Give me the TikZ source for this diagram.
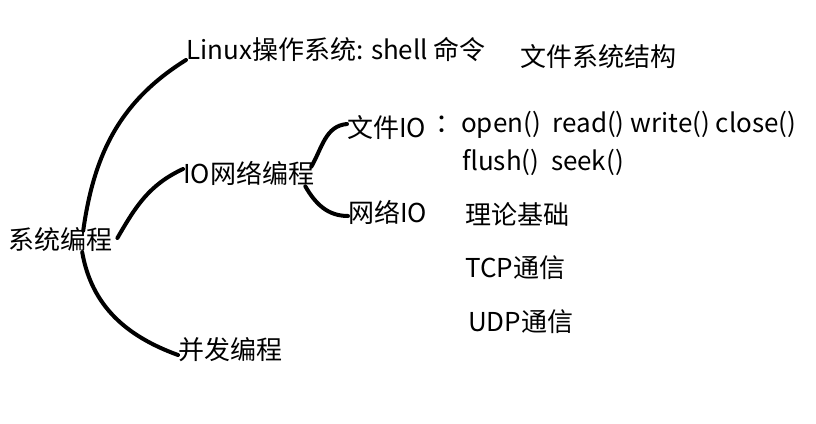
\documentclass[tikz,border=0pt]{standalone}
\usepackage{fontspec}
\setmainfont{Noto Sans CJK SC}
\usepackage{tikz}
\usetikzlibrary{positioning}

\begin{document}
\begin{tikzpicture}[
 x=1pt, y=-1pt,
 every node/.style={inner sep=0pt, anchor=west, font=\fontsize{26}{31}\selectfont},
 branch/.style={line width=4pt, line cap=round}
]
 \useasboundingbox (0,0) rectangle (816,423);

 % root and first level
 \node (root) at (8,240) {系统编程};
 \node (linux) at (186,50) {Linux操作系统: shell 命令};
 \node (fsys) at (520,57) {文件系统结构};
 \node (io) at (183,173) {IO网络编程};
 \node (conc) at (178,350) {并发编程};

 % second level under IO
 \node (fileio) at (347,128) {文件IO};
 \node (fileops) at (435,125) {：open()\ \ read() write() close()};
 \node (fileops2) at (462,162) {flush()\ \ seek()};
 \node (netio) at (348,212) {网络IO};
 \node (theory) at (465,214) {理论基础};
 \node (tcp) at (465,268) {TCP通信};
 \node (udp) at (468,322) {UDP通信};

 % branches from the root
 \draw[branch] ([xshift=23pt,yshift=-3pt]root.north) to[out=82, in=212] (linux.base west);
 \draw[branch] ([xshift=5pt,yshift=2pt]root.east) to[out=60, in=205] ([yshift=4pt]io.west);
 \draw[branch] ([xshift=22pt]root.south) to[out=-80, in=160] ([yshift=-5pt]conc.west);

 % branches from IO
 \draw[branch] ([xshift=-3pt,yshift=-6pt]io.north east) to[out=60, in=185] ([yshift=4pt]fileio.west);
 \draw[branch] ([xshift=-9pt,yshift=-1pt]io.south east) to[out=-60, in=180] ([yshift=-4pt]netio.west);
\end{tikzpicture}
\end{document}
